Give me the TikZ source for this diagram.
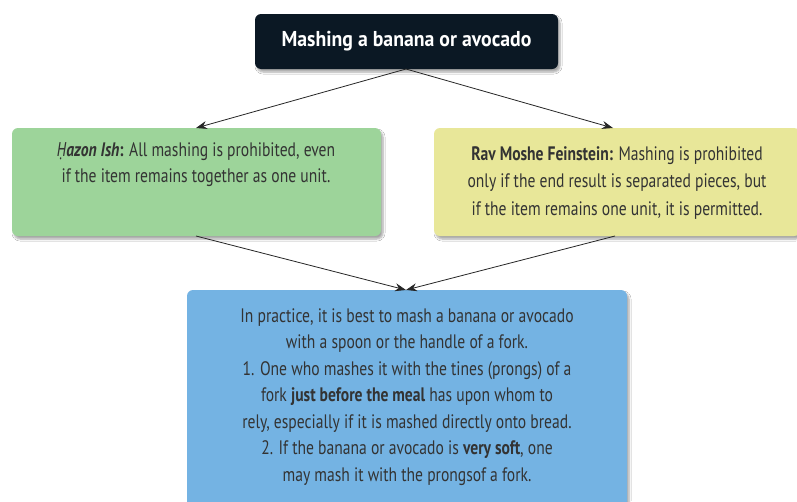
\documentclass[tikz,border=0pt]{standalone}
\usepackage{fontspec}
\setmainfont{PT Sans}[FakeStretch=0.8]
\newfontfamily\topfont{PT Sans}[FakeStretch=0.92]
\newfontfamily\hfont{Noto Sans}[FakeStretch=0.72]
\usetikzlibrary{shadows.blur,arrows.meta}
\definecolor{topc}{HTML}{0B1824}
\definecolor{greenc}{HTML}{9DD49A}
\definecolor{yellowc}{HTML}{E8E799}
\definecolor{bluec}{HTML}{74B3E3}
\definecolor{txt}{HTML}{333333}
\tikzset{
  box/.style={rounded corners=6pt, blur shadow={shadow xshift=2pt, shadow yshift=-3pt, shadow blur steps=6, shadow opacity=35}},
  conn/.style={-{Stealth[length=11pt,width=8pt]}, line width=0.8pt, black!85},
  bodytext/.style={align=center, text=txt, inner sep=0pt}
}
\begin{document}
\begin{tikzpicture}[x=1pt,y=-1pt]
\useasboundingbox (0,0) rectangle (797,501);
\clip (0,0) rectangle (797,501);
\fill[white] (0,0) rectangle (797,501);
% boxes
\filldraw[box, fill=topc, draw=none] (255,14) rectangle (558,69);
\node[inner sep=0pt, text=white, font=\topfont\fontsize{21.5}{24}\selectfont\bfseries] (top) at (406.5,41.5) {Mashing a banana or avocado};
\coordinate (topb) at (406,69);
\filldraw[box, fill=greenc, draw=none] (12,128) rectangle (381,236);
\coordinate (gt) at (196,128);
\coordinate (gb) at (196,236);
\node[bodytext, font=\fontsize{19.5}{26}\selectfont] (green) at (196,165) {\textbf{\textit{{\hfont Ḥ}azon Ish}:} All mashing is prohibited, even\\if the item remains together as one unit.};
\filldraw[box, fill=yellowc, draw=none] (434,128) rectangle (800,236);
\coordinate (yt) at (613,128);
\coordinate (yb) at (615,236);
\node[bodytext, font=\fontsize{19.5}{27.5}\selectfont] (yellow) at (617,183) {\textbf{Rav Moshe Feinstein:} Mashing is prohibited\\only if the end result is separated pieces, but\\if the item remains one unit, it is permitted.};
\filldraw[box, fill=bluec, draw=none] (187,290) rectangle (627,520);
\coordinate (bt) at (406,290);
\node[bodytext, font=\fontsize{19.5}{26.5}\selectfont] (blue) at (407,397) {In practice, it is best to mash a banana or avocado\\with a spoon or the handle of a fork.\\1. One who mashes it with the tines (prongs) of a\\fork \textbf{just before the meal} has upon whom to\\rely, especially if it is mashed directly onto bread.\\2. If the banana or avocado is \textbf{very soft}, one\\may mash it with the prongsof a fork.};
% connectors
\draw[conn] (topb) -- (gt);
\draw[conn] (topb) -- (yt);
\draw[conn] (gb) -- (bt);
\draw[conn] (yb) -- (bt);
\end{tikzpicture}
\end{document}
